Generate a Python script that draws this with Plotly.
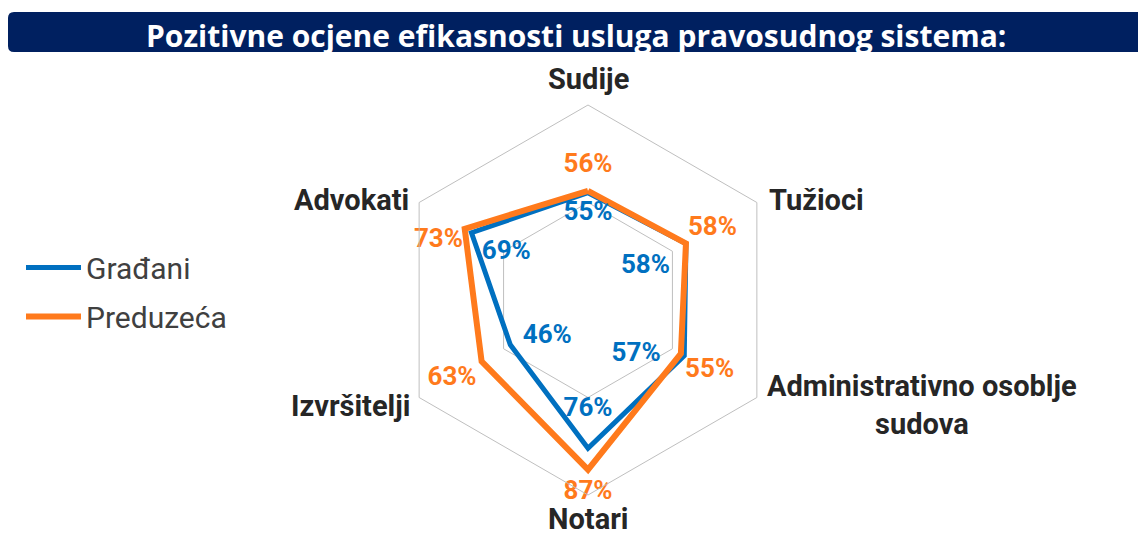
import plotly.graph_objects as go

# ---- data ----
categories = ["Sudije", "Tužioci", "Administrativno osoblje sudova", "Notari", "Izvršitelji", "Advokati"]
gradjani = [55, 58, 57, 76, 46, 69]
preduzeca = [56, 58, 55, 87, 63, 73]
series_names = ["Građani", "Preduzeća"]

# ---- styling ----
BLUE = "#0070C0"
ORANGE = "#FF7A1C"
NAVY = "#002060"
GRID = "#BFBFBF"
LABEL_DARK = "#262626"

# radial positions of the value labels (label placement only)
blue_label_r = [44.6, 34, 43, 56.4, 24.1, 48.4]
blue_label_pos = ["middle center", "middle center", "bottom left", "middle center", "bottom center", "middle center"]
orange_label_r = [69.2, 73.7, 72, 98.5, 80.5, 74]
orange_label_pos = ["middle center", "middle center", "middle center", "middle center", "middle center", "bottom left"]

W, H = 1138, 536


def closed(seq):
    return list(seq) + [seq[0]]


fig = go.Figure()

fig.add_trace(go.Scatterpolar(
    r=closed(gradjani), theta=closed(categories), mode="lines",
    name=series_names[0], legendgroup="g1",
    line=dict(color=BLUE, width=5), hoverinfo="skip"))
fig.add_trace(go.Scatterpolar(
    r=closed(preduzeca), theta=closed(categories), mode="lines",
    name=series_names[1], legendgroup="g2",
    line=dict(color=ORANGE, width=6), hoverinfo="skip"))

# value labels
fig.add_trace(go.Scatterpolar(
    r=blue_label_r, theta=categories, mode="text",
    text=[f"{v}%" for v in gradjani], textposition=blue_label_pos,
    textfont=dict(family="Roboto", size=26, color=BLUE, weight="bold"),
    showlegend=False, hoverinfo="skip"))
fig.add_trace(go.Scatterpolar(
    r=orange_label_r, theta=categories, mode="text",
    text=[f"{v}%" for v in preduzeca], textposition=orange_label_pos,
    textfont=dict(family="Roboto", size=26, color=ORANGE, weight="bold"),
    showlegend=False, hoverinfo="skip"))

cx, cy, R = 588, 300, 195

fig.update_layout(
    width=W, height=H,
    margin=dict(l=0, r=0, t=0, b=0),
    paper_bgcolor="white",
    plot_bgcolor="white",
    polar=dict(
        domain=dict(x=[(cx - R) / W, (cx + R) / W], y=[(H - cy - R) / H, (H - cy + R) / H]),
        gridshape="linear",
        bgcolor="white",
        radialaxis=dict(range=[0, 100], tickvals=[50], showticklabels=False, ticks="",
                        showline=False, gridcolor=GRID, gridwidth=1),
        angularaxis=dict(rotation=90, direction="clockwise", showticklabels=False, ticks="",
                         showgrid=False, showline=True, linecolor=GRID, linewidth=1),
    ),
    showlegend=True,
    legend=dict(x=21 / W, y=(H - 292) / H, xanchor="left", yanchor="middle",
                font=dict(family="Roboto", size=30, color="#404040"),
                traceorder="grouped", tracegroupgap=7, itemwidth=55,
                bgcolor="rgba(0,0,0,0)"),
)

# title banner with rounded left corners
x0, x1 = 8 / W, 1.02
y0, y1 = (H - 52) / H, (H - 12) / H
rx, ry = 6 / W, 6 / H
path = (f"M{x0 + rx},{y1} L{x1},{y1} L{x1},{y0} L{x0 + rx},{y0} "
        f"Q{x0},{y0} {x0},{y0 + ry} L{x0},{y1 - ry} Q{x0},{y1} {x0 + rx},{y1} Z")
fig.add_shape(type="path", path=path, xref="paper", yref="paper",
              fillcolor=NAVY, line=dict(width=0), layer="below")
fig.add_annotation(text="<b>Pozitivne ocjene efikasnosti usluga pravosudnog sistema:</b>",
                   x=576 / W, y=(H - 35) / H, xref="paper", yref="paper",
                   xanchor="center", yanchor="middle", showarrow=False,
                   font=dict(family="Open Sans", size=30, color="white"))

# category labels
cat_font = dict(family="Roboto", size=29, color=LABEL_DARK)
cat_pos = [
    (588, 79, "center"),
    (767, 200, "left"),
    (922, 405, "center"),
    (588, 519, "center"),
    (412, 406, "right"),
    (411, 200, "right"),
]
cat_text = ["Sudije", "Tužioci", "Administrativno osoblje<br>sudova", "Notari", "Izvršitelji", "Advokati"]
for (px, py, anc), txt in zip(cat_pos, cat_text):
    fig.add_annotation(text=f"<b>{txt}</b>", x=px / W, y=(H - py) / H, xref="paper", yref="paper",
                       xanchor=anc, yanchor="middle", showarrow=False, align="center",
                       font=cat_font)

fig.write_html("out.html", config={"displayModeBar": False},
               post_script="document.body.style.margin='0';document.body.style.overflow='hidden';")
